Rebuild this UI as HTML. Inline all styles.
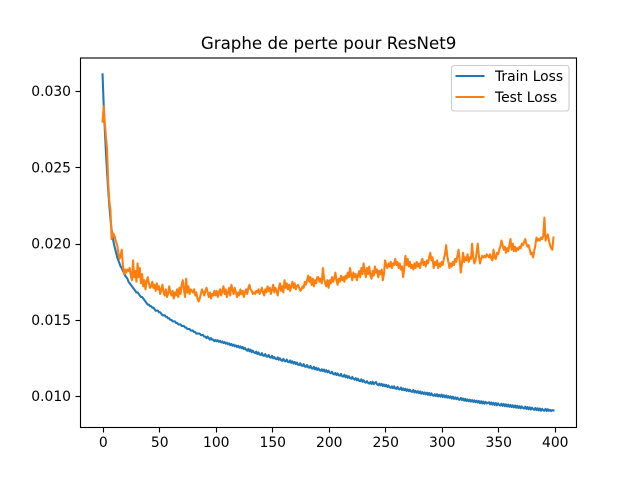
<!DOCTYPE html>
<html lang="fr">
<head>
<meta charset="utf-8">
<title>Graphe de perte pour ResNet9</title>
<style>
html,body{margin:0;padding:0;background:#fff;}
svg{display:block;}
text{font-family:"DejaVu Sans","Liberation Sans",sans-serif;fill:#000;}
</style>
</head>
<body>
<svg id="chart" width="640" height="480" viewBox="0 0 640 480" xmlns="http://www.w3.org/2000/svg">
  <rect x="0" y="0" width="640" height="480" fill="#fff"/>
  <text x="328.6" y="49" font-size="16.67" text-anchor="middle">Graphe de perte pour ResNet9</text>
  <g id="marks"></g>
  <rect x="80.5" y="58" width="496" height="369.5" fill="none" stroke="#000" stroke-width="1.11"/>
  <g id="x-axis"></g>
  <g id="y-axis"></g>
  <g>
    <rect x="451.5" y="65.5" width="117.5" height="45.5" rx="2.8" fill="#fff" fill-opacity="0.8" stroke="#ccc" stroke-width="1.11"/>
    <line x1="455.5" x2="484.5" y1="76" y2="76" stroke="#1f77b4" stroke-width="2.08"/>
    <text x="495" y="81" font-size="13.89">Train Loss</text>
    <line x1="455.5" x2="484.5" y1="97" y2="97" stroke="#ff7f0e" stroke-width="2.08"/>
    <text x="495" y="102" font-size="13.89">Test Loss</text>
  </g>
</svg>
<script>
const xTicks = [0, 50, 100, 150, 200, 250, 300, 350, 400];
const yTicks = [0.010, 0.015, 0.020, 0.025, 0.030];
const yTickLabels = ["0.010", "0.015", "0.020", "0.025", "0.030"];

const trainLoss = [
.0311,.0291,.0275,.0260,.0247,.0235,.0225,.0216,.0209,.0204,
.0200,.0197,.0194,.0191,.0189,.0187,.0185,.0184,.0182,.0181,
.0179,.0178,.0177,.0175,.0174,.0173,.0172,.0171,.0170,.0169,
.0168,.0168,.0167,.0166,.0165,.0165,.0164,.0163,.0162,.0161,
.0160,.0160,.0159,.0159,.0158,.0158,.0157,.0156,.0156,.0156,
.0155,.0155,.0154,.0153,.0153,.0153,.0152,.0152,.0151,.0151,
.0150,.0150,.0149,.0149,.0149,.0148,.0148,.0147,.0147,.0147,
.0146,.0146,.0146,.0145,.0145,.0144,.0144,.0144,.0143,.0143,
.0143,.0142,.0142,.0141,.0141,.0141,.0141,.0140,.0140,.0140,
.0139,.0139,.0138,.0139,.0138,.0137,.0138,.0137,.0137,.0136,
.01368,.01360,.01366,.01356,.01362,.01352,.01358,.01348,.01354,.01344,
.01350,.01340,.01346,.01334,.01342,.01330,.01338,.01326,.01333,.01322,
.01330,.01318,.01326,.01314,.01322,.01308,.01316,.01304,.01298,.01310,
.01294,.01304,.01288,.01298,.01286,.01282,.01292,.01276,.01286,.01272,
.01270,.01282,.01266,.01264,.01276,.01260,.01258,.01270,.01254,.01252,
.01264,.01248,.01256,.01244,.01242,.01254,.01238,.01248,.01234,.01232,
.01244,.01230,.01228,.01240,.01224,.01222,.01234,.01218,.01228,.01214,
.01224,.01210,.01220,.01206,.01204,.01216,.01200,.01198,.01210,.01194,
.01192,.01204,.01188,.01186,.01198,.01182,.01180,.01192,.01176,.01186,
.01172,.01182,.01170,.01166,.01176,.01164,.01174,.01160,.01170,.01156,
.01166,.01154,.01150,.01160,.01146,.01142,.01152,.01138,.01148,.01136,
.01134,.01146,.01130,.01128,.01140,.01124,.01134,.01120,.01130,.01118,
.01114,.01126,.01112,.01108,.01118,.01104,.01114,.01100,.01098,.01110,
.01094,.01104,.01092,.01088,.01098,.01086,.01082,.01092,.01080,.01094,
.01078,.01088,.01092,.01076,.01072,.01082,.01070,.01080,.01066,.01076,
.01064,.01074,.01060,.01070,.01058,.01054,.01064,.01052,.01064,.01050,
.01048,.01060,.01046,.01044,.01056,.01040,.01050,.01038,.01048,.01034,
.01044,.01032,.01042,.01030,.01028,.01040,.01024,.01034,.01022,.01032,
.01020,.01030,.01016,.01026,.01014,.01024,.01012,.01022,.01008,.01020,
.01006,.01018,.01006,.01002,.01012,.01000,.01012,.00998,.01008,.00996,
.01010,.00994,.01006,.00992,.01004,.00990,.01000,.00988,.00998,.00984,
.00996,.00982,.00992,.00980,.00990,.00978,.00976,.00988,.00974,.00984,
.00970,.00982,.00968,.00978,.00966,.00976,.00964,.00974,.00962,.00972,
.00960,.00970,.00958,.00968,.00954,.00966,.00952,.00964,.00950,.00962,
.00952,.00956,.00960,.00946,.00958,.00944,.00956,.00942,.00954,.00940,
.00952,.00942,.00938,.00950,.00936,.00948,.00934,.00946,.00932,.00944,
.00930,.00942,.00928,.00940,.00926,.00938,.00924,.00936,.00922,.00934,
.00920,.00932,.00922,.00918,.00930,.00916,.00928,.00914,.00926,.00912,
.00924,.00914,.00910,.00922,.00908,.00920,.00906,.00918,.00904,.00916,
.00906,.00904,.00916,.00902,.00914,.00904,.00910,.00902,.00908,.00906
];

const testLoss = [
.0280,.0290,.0279,.0270,.0262,.0240,.0228,.0222,.0203,.0207,
.0206,.0204,.0201,.0199,.0194,.0190,.0192,.0196,.0186,.0180,
.0183,.0181,.0183,.0182,.0184,.0179,.0176,.0189,.0178,.0182,
.0175,.0187,.0178,.0184,.0174,.0180,.0172,.0176,.0170,.0175,
.0178,.0174,.0171,.0172,.0175,.0171,.0173,.0169,.0174,.0170,
.0172,.0167,.0170,.0173,.0168,.0166,.0170,.0165,.0167,.0172,
.0168,.0166,.0169,.0164,.0168,.0166,.0170,.0165,.0171,.0167,
.0173,.0176,.0170,.0165,.0177,.0168,.0172,.0167,.0170,.0169,
.0168,.0170,.0166,.0168,.0164,.0162,.0164,.0167,.0170,.0168,
.0166,.0169,.0171,.0168,.0165,.0168,.0164,.0167,.0166,.0169,
.0166,.0169,.0165,.0168,.0170,.0166,.0169,.0172,.0167,.0170,
.0165,.0168,.0171,.0166,.0173,.0170,.0167,.0171,.0168,.0165,
.0168,.0166,.0170,.0167,.0169,.0165,.0168,.0170,.0167,.0171,
.0173,.0170,.0169,.0167,.0168,.0167,.0169,.0168,.0170,.0167,
.0169,.0171,.0168,.0166,.0170,.0168,.0172,.0169,.0171,.0167,
.0170,.0173,.0168,.0171,.0169,.0166,.0171,.0174,.0169,.0172,
.0168,.0176,.0171,.0174,.0170,.0173,.0169,.0172,.0175,.0171,
.0174,.0170,.0172,.0173,.0171,.0169,.0170,.0172,.0171,.0175,
.0173,.0176,.0179,.0175,.0178,.0173,.0177,.0172,.0176,.0174,
.0178,.0178,.0175,.0177,.0174,.0184,.0177,.0174,.0172,.0176,
.0171,.0176,.0174,.0178,.0175,.0177,.0181,.0176,.0173,.0177,
.0175,.0179,.0176,.0178,.0175,.0179,.0177,.0181,.0178,.0184,
.0179,.0176,.0181,.0178,.0180,.0176,.0179,.0182,.0178,.0184,
.0180,.0187,.0182,.0178,.0184,.0180,.0185,.0179,.0177,.0182,
.0179,.0185,.0181,.0183,.0178,.0182,.0180,.0183,.0176,.0180,
.0189,.0186,.0184,.0187,.0185,.0188,.0184,.0187,.0186,.0190,
.0186,.0188,.0184,.0187,.0183,.0185,.0178,.0184,.0192,.0186,
.0190,.0185,.0188,.0184,.0186,.0183,.0187,.0184,.0188,.0185,
.0187,.0184,.0188,.0190,.0186,.0188,.0185,.0189,.0187,.0191,
.0194,.0189,.0191,.0184,.0188,.0186,.0189,.0184,.0187,.0185,
.0188,.0186,.0190,.0193,.0199,.0192,.0188,.0184,.0187,.0185,
.0188,.0186,.0190,.0188,.0192,.0196,.0189,.0181,.0187,.0194,
.0188,.0191,.0189,.0193,.0188,.0191,.0190,.0200,.0191,.0187,
.0189,.0194,.0200,.0192,.0187,.0190,.0192,.0191,.0192,.0191,
.0193,.0192,.0191,.0193,.0190,.0189,.0196,.0191,.0190,.0194,
.0193,.0196,.0198,.0202,.0199,.0196,.0198,.0194,.0197,.0195,
.0199,.0203,.0196,.0200,.0195,.0198,.0195,.0197,.0196,.0198,
.0197,.0200,.0199,.0201,.0203,.0200,.0198,.0199,.0196,.0193,
.0194,.0191,.0195,.0199,.0204,.0202,.0203,.0202,.0204,.0203,
.0205,.0217,.0202,.0204,.0206,.0202,.0199,.0197,.0196,.0204
];

const xMin = -19.95, xMax = 418.95;
const yMin = 0.00796, yMax = 0.0322;
const plotLeft = 80, plotRight = 576, plotTop = 57.6, plotBottom = 427.2;
const svgNS = "http://www.w3.org/2000/svg";

function xScale(v) { return plotLeft + (v - xMin) / (xMax - xMin) * (plotRight - plotLeft); }
function yScale(v) { return plotBottom - (v - yMin) / (yMax - yMin) * (plotBottom - plotTop); }

function drawSeries(values, color) {
  const line = document.createElementNS(svgNS, "polyline");
  line.setAttribute("points", values.map((v, i) => xScale(i).toFixed(2) + "," + yScale(v).toFixed(2)).join(" "));
  line.setAttribute("fill", "none");
  line.setAttribute("stroke", color);
  line.setAttribute("stroke-width", "2.08");
  line.setAttribute("stroke-linejoin", "round");
  line.setAttribute("stroke-linecap", "square");
  document.getElementById("marks").appendChild(line);
  return line;
}

const trainLine = drawSeries(trainLoss, "#1f77b4");


const testLine = drawSeries(testLoss, "#ff7f0e");



const xAxisGroup = document.getElementById("x-axis");
xTicks.forEach((t) => {
  const px = Math.round(xScale(t)) + 0.5;
  const tick = document.createElementNS(svgNS, "line");
  
  
  tick.setAttribute("x1", px);
  tick.setAttribute("x2", px);
  tick.setAttribute("y1", 427.5);
  tick.setAttribute("y2", 432.5);
  tick.setAttribute("stroke", "#000");
  tick.setAttribute("stroke-width", "1.11");
  xAxisGroup.appendChild(tick);
  const label = document.createElementNS(svgNS, "text");
  
  
  label.setAttribute("x", xScale(t) + 0.7);
  label.setAttribute("y", 447);
  label.setAttribute("font-size", "13.89");
  label.setAttribute("text-anchor", "middle");
  label.textContent = String(t);
  xAxisGroup.appendChild(label);
});

const yAxisGroup = document.getElementById("y-axis");
yTicks.forEach((t, i) => {
  const py = Math.round(yScale(t)) + 0.5;
  const tick = document.createElementNS(svgNS, "line");
  
  
  tick.setAttribute("x1", 75.5);
  tick.setAttribute("x2", 80.5);
  tick.setAttribute("y1", py);
  tick.setAttribute("y2", py);
  tick.setAttribute("stroke", "#000");
  tick.setAttribute("stroke-width", "1.11");
  yAxisGroup.appendChild(tick);
  const label = document.createElementNS(svgNS, "text");
  
  
  label.setAttribute("x", 71);
  label.setAttribute("y", yScale(t) + 5);
  label.setAttribute("font-size", "13.89");
  label.setAttribute("text-anchor", "end");
  label.textContent = yTickLabels[i];
  yAxisGroup.appendChild(label);
});
</script>
</body>
</html>
